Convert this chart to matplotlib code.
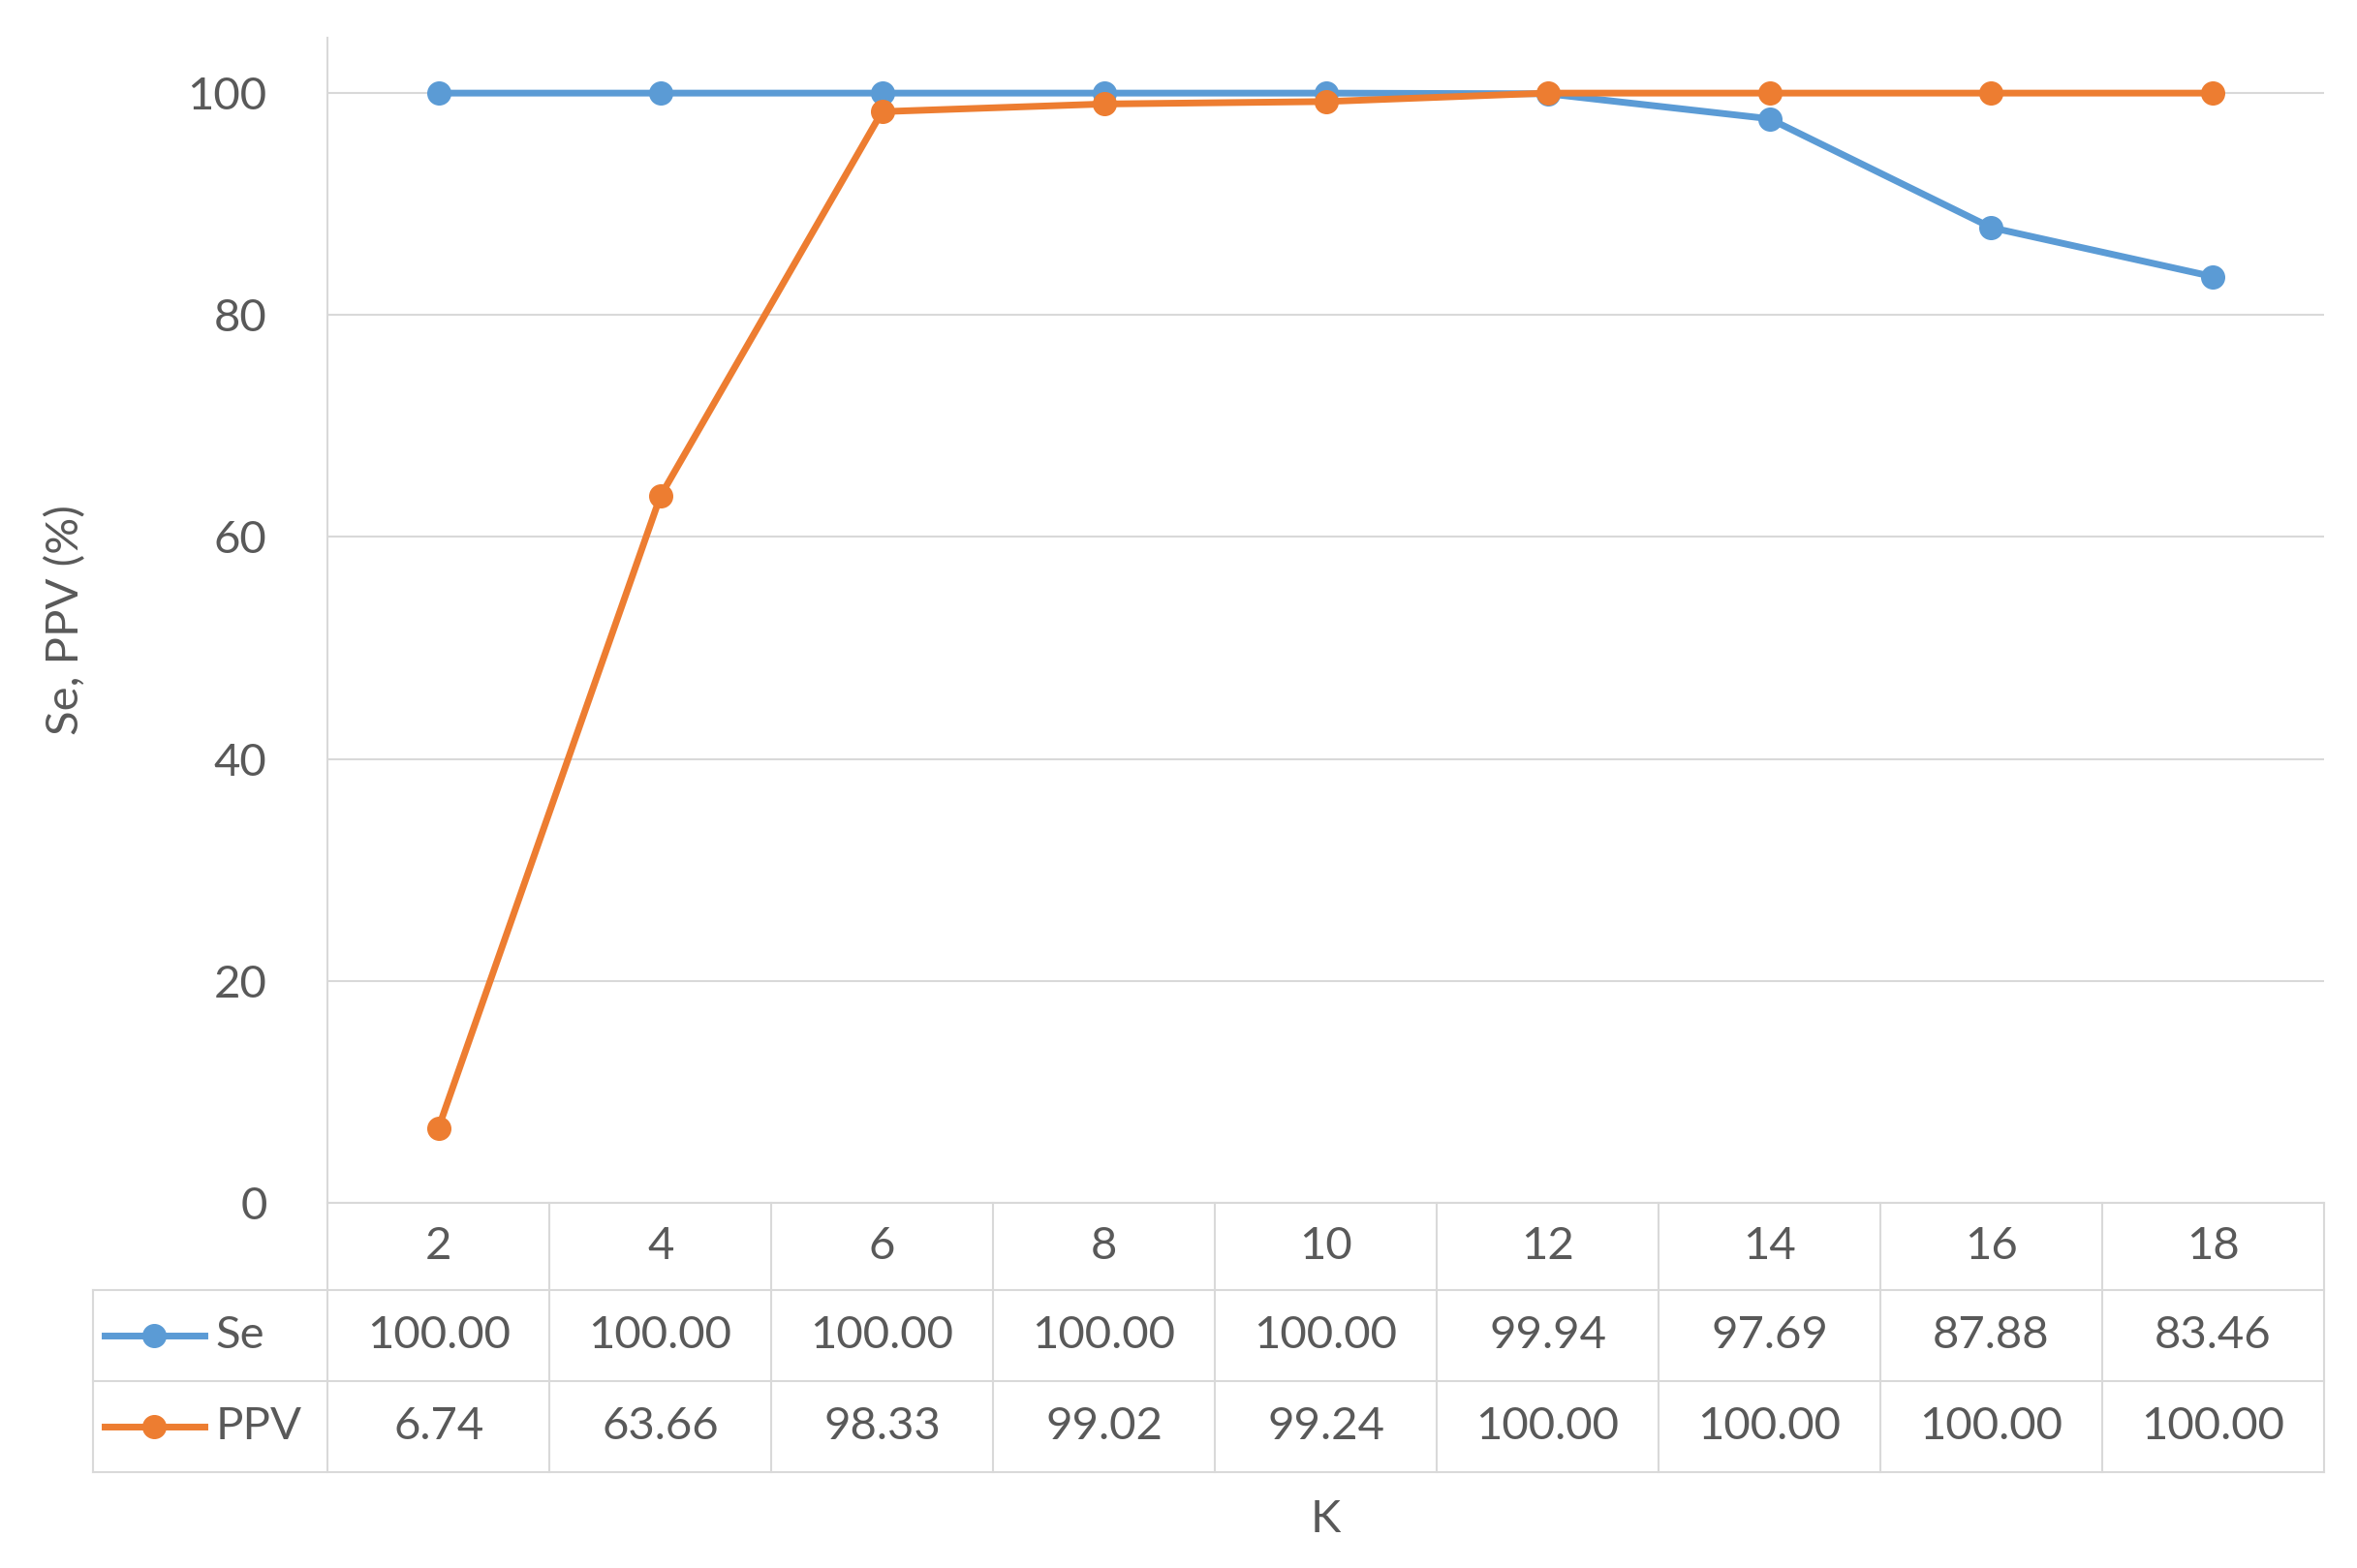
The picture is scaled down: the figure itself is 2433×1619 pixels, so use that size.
import matplotlib.pyplot as plt
from matplotlib.lines import Line2D

plt.rcParams['font.family'] = ['Lato', 'DejaVu Sans']

K = [2, 4, 6, 8, 10, 12, 14, 16, 18]
se = [100.00, 100.00, 100.00, 100.00, 100.00, 99.94, 97.69, 87.88, 83.46]
ppv = [6.74, 63.66, 98.33, 99.02, 99.24, 100.00, 100.00, 100.00, 100.00]

BLUE = "#5B9BD5"
ORANGE = "#ED7D31"
TXT = "#595959"
GRID = "#D9D9D9"
FS = 34

fig = plt.figure(figsize=(24.33, 16.19), dpi=100)
ax = fig.add_axes([0.139, 0.233, 0.847, 0.743])
x = list(range(len(K)))
ax.plot(x, se, color=BLUE, lw=5, marker="o", ms=17, zorder=3)
ax.plot(x, ppv, color=ORANGE, lw=5, marker="o", ms=17, zorder=4)
ax.set_xlim(-0.5, len(K) - 0.5)
ax.set_ylim(0, 105)
ax.set_yticks([0, 20, 40, 60, 80, 100])
ax.yaxis.grid(True, color=GRID, lw=1.5)
ax.set_axisbelow(True)
ax.set_xticks([])
for s in ["top", "right", "bottom"]:
    ax.spines[s].set_visible(False)
ax.spines["left"].set_color(GRID)
ax.spines["left"].set_linewidth(1.5)
ax.tick_params(axis="y", length=0, labelsize=FS, labelcolor=TXT, pad=45)
ax.set_ylabel("Se, PPV (%)", fontsize=FS, color=TXT, labelpad=75)

# data table below the axis
tr = ax.get_xaxis_transform()
rows = [0, -0.075, -0.153, -0.231]
left = -1.556
kw = dict(transform=tr, color=GRID, lw=1.5, clip_on=False)
ax.add_line(Line2D([-0.5, 8.5], [rows[0]] * 2, **kw))
for r in rows[1:]:
    ax.add_line(Line2D([left, 8.5], [r] * 2, **kw))
for i in range(len(K) + 1):
    ax.add_line(Line2D([i - 0.5] * 2, [rows[0], rows[3]], **kw))
ax.add_line(Line2D([left] * 2, [rows[1], rows[3]], **kw))

def mid(a, b):
    return (a + b) / 2

for i, k in enumerate(K):
    ax.text(i, mid(rows[0], rows[1]), str(k), transform=tr, ha="center", va="center", fontsize=FS, color=TXT)
    ax.text(i, mid(rows[1], rows[2]), f"{se[i]:.2f}", transform=tr, ha="center", va="center", fontsize=FS, color=TXT)
    ax.text(i, mid(rows[2], rows[3]), f"{ppv[i]:.2f}", transform=tr, ha="center", va="center", fontsize=FS, color=TXT)

for (name, col, r0, r1) in [("Se", BLUE, rows[1], rows[2]), ("PPV", ORANGE, rows[2], rows[3])]:
    y = mid(r0, r1)
    ax.add_line(Line2D([left + 0.05, left + 0.5], [y, y], transform=tr, color=col, lw=5, clip_on=False))
    ax.add_line(Line2D([left + 0.275], [y], transform=tr, color=col, marker="o", ms=17, clip_on=False))
    ax.text(left + 0.55, y, name, transform=tr, ha="left", va="center", fontsize=FS, color=TXT)

ax.text(4, -0.272, "K", transform=tr, ha="center", va="center", fontsize=FS, color=TXT)

fig.savefig("out.png")
